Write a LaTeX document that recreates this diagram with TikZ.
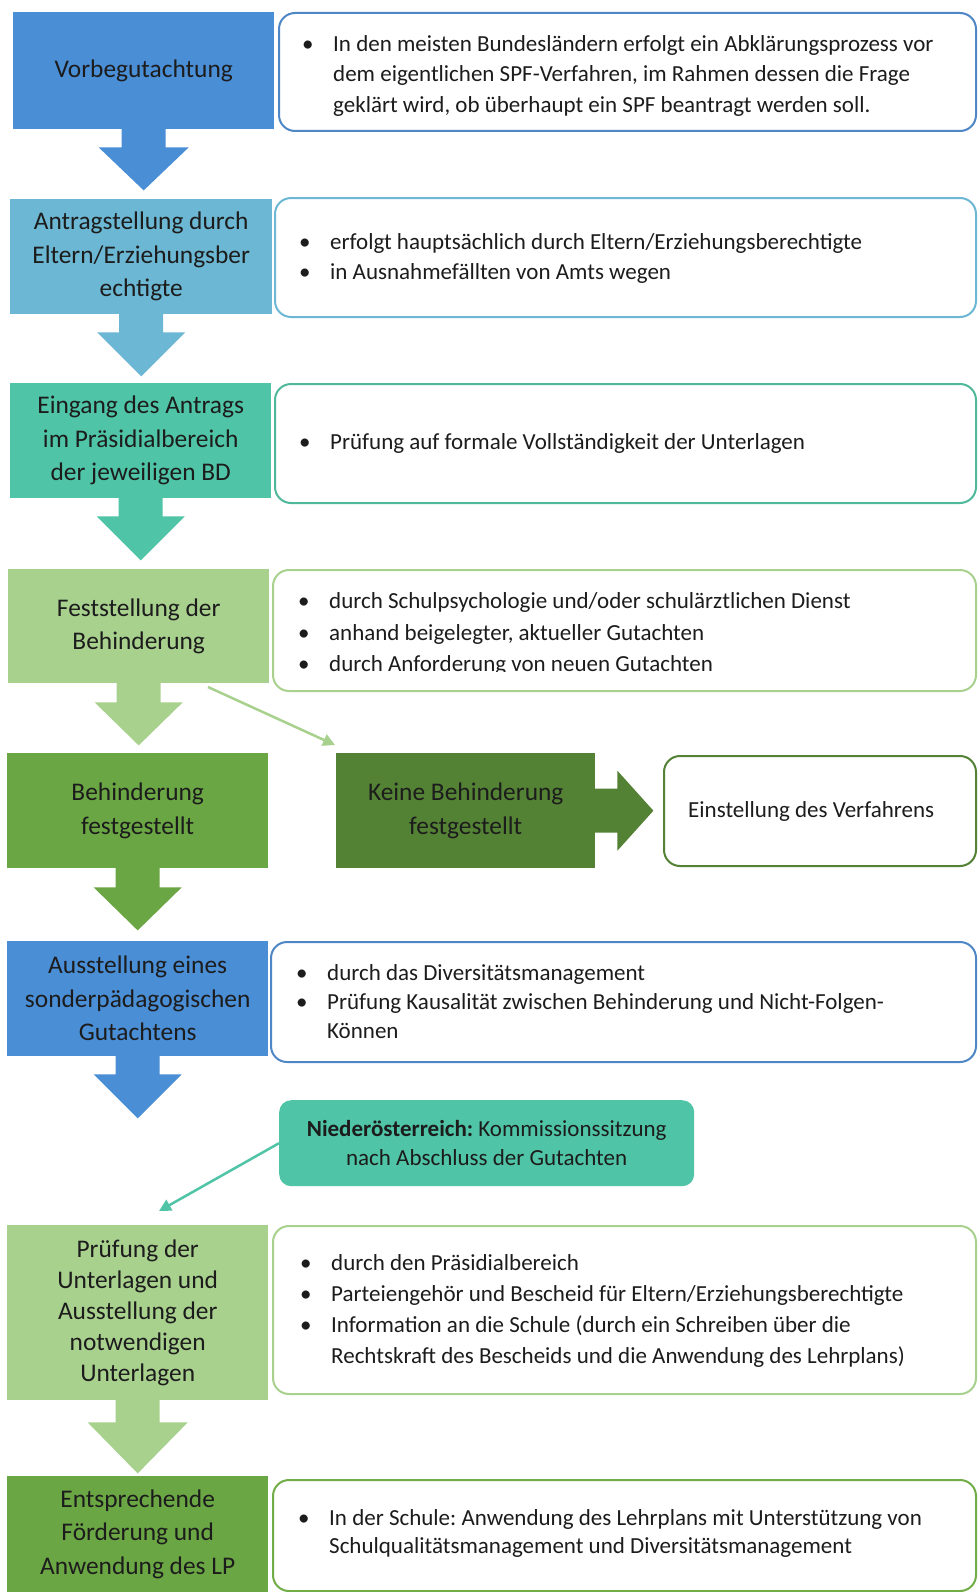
\documentclass[tikz,border=0pt]{standalone}
\usepackage{fontspec}
\setmainfont{Carlito}
\frenchspacing
\usetikzlibrary{calc,arrows.meta}
\definecolor{cblue}{HTML}{4A8ED6}
\definecolor{clblue}{HTML}{6CB8D4}
\definecolor{cteal}{HTML}{4FC4A6}
\definecolor{clgreen}{HTML}{A9D18E}
\definecolor{cgreen}{HTML}{6BA644}
\definecolor{cdgreen}{HTML}{548235}
\definecolor{ctext}{HTML}{1C1C1C}
\definecolor{bblue}{HTML}{4F86C6}
\definecolor{blblue}{HTML}{6CB8D4}
\definecolor{bteal}{HTML}{4FB89A}
\definecolor{blgreen}{HTML}{A9D18E}
\definecolor{bgreen}{HTML}{70AD47}
\newcommand{\bl}{\makebox[31pt][l]{\textbullet}}
\newcommand{\fatdown}[5]{%
  \fill[#2] ($(#1.south)+(-22,-1)$) -- ($(#1.south)+(-22,#3)$) -- ($(#1.south)+(-#5,#3)$)
   -- ($(#1.south)+(0,#3+#4)$) -- ($(#1.south)+(#5,#3)$) -- ($(#1.south)+(22,#3)$)
   -- ($(#1.south)+(22,-1)$) -- cycle;}
\tikzset{
  lbox/.style={anchor=north west, inner sep=0pt, align=center, text=ctext,
    font=\fontsize{25.4}{33.5}\selectfont},
  rbox/.style={anchor=north west, draw, line width=2pt, rounded corners=16pt, fill=white, inner sep=0pt},
  btext/.style={anchor=west, inner sep=0pt, text=ctext, font=\fontsize{23}{30.5}\selectfont},
  thinarrow/.style={-{Triangle[length=12pt,width=12pt]}, line width=2.5pt}
}
\begin{document}
\begin{tikzpicture}[x=1pt,y=-1pt]
\useasboundingbox[fill=white] (0,0) rectangle (977,1592);

% right boxes
\node[rbox, draw=bblue, minimum width=697pt, minimum height=118pt] (r1) at (278,12) {};
\node[rbox, draw=blblue, minimum width=701pt, minimum height=119pt] (r2) at (274,197) {};
\node[rbox, draw=bteal, minimum width=701pt, minimum height=119pt] (r3) at (274,383) {};
\node[rbox, draw=blgreen, minimum width=703pt, minimum height=121pt] (r4) at (272,569) {};
\node[rbox, draw=cdgreen, minimum width=312pt, minimum height=110pt] (ei) at (663,755) {};
\node[rbox, draw=bblue, minimum width=705pt, minimum height=120pt] (r6) at (270,941) {};
\node[rbox, draw=blgreen, minimum width=703pt, minimum height=168pt] (r7) at (272,1225) {};
\node[rbox, draw=bgreen, minimum width=703pt, minimum height=111pt] (r8) at (272,1479) {};
\node[anchor=north west, fill=cteal, rounded corners=12pt, minimum width=415pt, minimum height=86pt, inner sep=0pt] (nd) at (279,1100) {};

% left boxes
\node[lbox, fill=cblue, minimum width=261pt, minimum height=117pt] (b1) at (13,12) {Vorbegutachtung};
\node[lbox, fill=clblue, minimum width=262pt, minimum height=115pt] (b2) at (10,199) {Antragstellung durch\\Eltern/Erziehungsber\\echtigte};
\node[lbox, fill=cteal, minimum width=261pt, minimum height=115pt] (b3) at (10,383) {Eingang des Antrags\\im Präsidialbereich\\der jeweiligen BD};
\node[lbox, fill=clgreen, minimum width=261pt, minimum height=114pt] (b4) at (8,569) {Feststellung der\\Behinderung};
\node[lbox, fill=cgreen, minimum width=261pt, minimum height=115pt] (b5) at (7,753) {Behinderung\\festgestellt};
\node[lbox, fill=cdgreen, minimum width=259pt, minimum height=115pt] (kb) at (336,753) {Keine Behinderung\\festgestellt};
\node[lbox, fill=cblue, minimum width=261pt, minimum height=115pt] (b6) at (7,941) {Ausstellung eines\\sonderpädagogischen\\Gutachtens};
\node[lbox, fill=clgreen, minimum width=261pt, minimum height=175pt, font=\fontsize{25.4}{31}\selectfont] (b7) at (7,1225) {Prüfung der\\Unterlagen und\\Ausstellung der\\notwendigen\\Unterlagen};
\node[lbox, fill=cgreen, minimum width=261pt, minimum height=116pt] (b8) at (7,1476) {Entsprechende\\Förderung und\\Anwendung des LP};

% texts
\node[btext] (t1) at (302,75.5) {\begin{tabular}{@{}l@{}l@{}}\bl&In den meisten Bundesländern erfolgt ein Abklärungsprozess vor\\&dem eigentlichen SPF-Verfahren, im Rahmen dessen die Frage\\&geklärt wird, ob überhaupt ein SPF beantragt werden soll.\end{tabular}};
\node[btext] (t2) at (299,258.5) {\begin{tabular}{@{}l@{}l@{}}\bl&erfolgt hauptsächlich durch Eltern/Erziehungsberechtigte\\\bl&in Ausnahmefällten von Amts wegen\end{tabular}};
\node[btext] (t3) at (299,443) {\begin{tabular}{@{}l@{}l@{}}\bl&Prüfung auf formale Vollständigkeit der Unterlagen\end{tabular}};
\begin{scope}
\clip (260,560) rectangle (977,671);
\node[btext, font=\fontsize{23}{31.5}\selectfont] (t4) at (298,634) {\begin{tabular}{@{}l@{}l@{}}\bl&durch Schulpsychologie und/oder schulärztlichen Dienst\\\bl&anhand beigelegter, aktueller Gutachten\\\bl&durch Anforderung von neuen Gutachten\end{tabular}};
\end{scope}
\node[btext] (te) at (688,811) {Einstellung des Verfahrens};
\node[btext, font=\fontsize{23}{29}\selectfont] (t6) at (296,1004) {\begin{tabular}{@{}l@{}l@{}}\bl&durch das Diversitätsmanagement\\\bl&Prüfung Kausalität zwischen Behinderung und Nicht-Folgen-\\&Können\end{tabular}};
\node[anchor=center, inner sep=0pt, align=center, text=ctext, font=\fontsize{23}{29}\selectfont] (tn) at (nd.center) {\textbf{Niederösterreich:} Kommissionssitzung\\nach Abschluss der Gutachten};
\node[btext, font=\fontsize{23}{31}\selectfont] (t7) at (300,1311) {\begin{tabular}{@{}l@{}l@{}}\bl&durch den Präsidialbereich\\\bl&Parteiengehör und Bescheid für Eltern/Erziehungsberechtigte\\\bl&Information an die Schule (durch ein Schreiben über die\\&Rechtskraft des Bescheids und die Anwendung des Lehrplans)\end{tabular}};
\node[btext, font=\fontsize{23}{28}\selectfont] (t8) at (298,1534) {\begin{tabular}{@{}l@{}l@{}}\bl&In der Schule: Anwendung des Lehrplans mit Unterstützung von\\&Schulqualitätsmanagement und Diversitätsmanagement\end{tabular}};

% fat arrows
\fatdown{b1}{cblue}{18}{43}{45}
\fatdown{b2}{clblue}{18}{44}{44}
\fatdown{b3}{cteal}{18}{44}{44}
\fatdown{b4}{clgreen}{19}{43}{44}
\fatdown{b5}{cgreen}{19}{43}{44}
\fatdown{b6}{cblue}{18}{44}{44}
\fatdown{b7}{clgreen}{22}{51}{50}
\fill[cdgreen] ($(kb.east)+(-1,-22)$) -- ($(kb.east)+(22,-22)$) -- ($(kb.east)+(22,-40)$)
  -- ($(kb.east)+(58,0)$) -- ($(kb.east)+(22,40)$) -- ($(kb.east)+(22,22)$)
  -- ($(kb.east)+(-1,22)$) -- cycle;

% thin arrows
\coordinate (d1s) at (208,687);
\coordinate (d1e) at (335,745);
\coordinate (d2e) at (159,1211);
\draw[thinarrow, clgreen] (d1s) -- (d1e);
\draw[thinarrow, cteal] (nd.west) -- (d2e);
\end{tikzpicture}
\end{document}
